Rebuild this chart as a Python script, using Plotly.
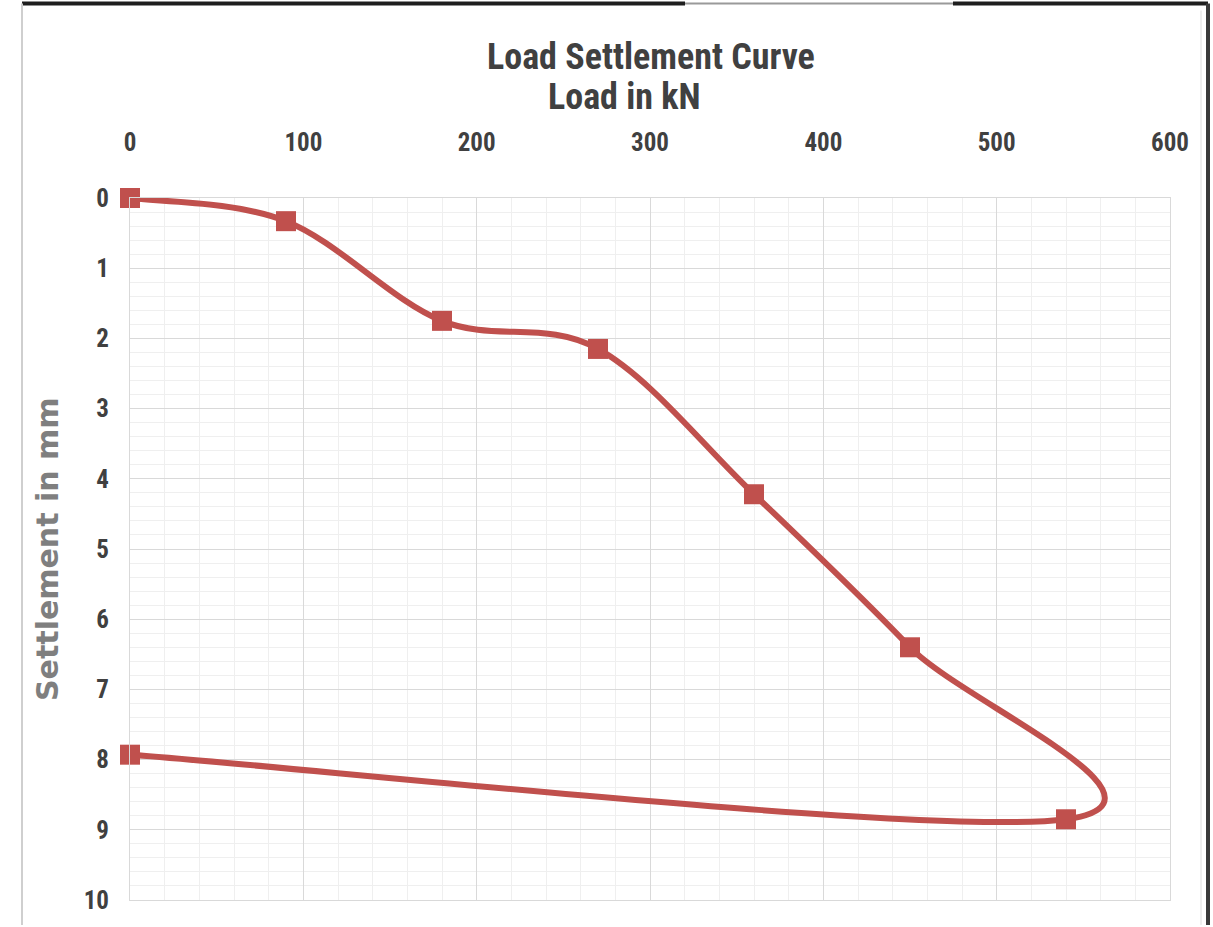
import plotly.graph_objects as go

# Load test readings: applied load (kN) and measured settlement (mm)
load_kn = [0, 90, 180, 270, 360, 450, 540, 0]
settlement_mm = [0, 0.33, 1.75, 2.15, 4.22, 6.4, 8.85, 7.93]

x_ticks = [0, 100, 200, 300, 400, 500, 600]
y_ticks = list(range(0, 11))

W, H = 1213, 927
L, R, T, B = 130, 43, 198, 25
pw, ph = W - L - R, H - T - B

RED = "#C0504D"
TXT = "#404040"
NARROW = "Liberation Sans Narrow, Arial Narrow, Roboto Condensed, sans-serif"


def px(x):
    return (x - L) / pw


def py(y):
    return (H - B - y) / ph


def smooth_path(xs, ys):
    """Cubic Bezier path through the readings (Catmull-Rom style tangents)."""
    pts = list(zip(xs, ys))
    n = len(pts)
    parts = [f"M{pts[0][0]},{pts[0][1]}"]
    for i in range(n - 1):
        p0 = pts[max(i - 1, 0)]
        p1 = pts[i]
        p2 = pts[i + 1]
        p3 = pts[min(i + 2, n - 1)]
        c1 = (p1[0] + (p2[0] - p0[0]) / 6, p1[1] + (p2[1] - p0[1]) / 6)
        c2 = (p2[0] - (p3[0] - p1[0]) / 6, p2[1] - (p3[1] - p1[1]) / 6)
        parts.append(f"C{c1[0]:.4f},{c1[1]:.4f} {c2[0]:.4f},{c2[1]:.4f} {p2[0]},{p2[1]}")
    return " ".join(parts)


fig = go.Figure()

# Smoothed load-settlement curve
fig.add_shape(type="path", xref="x", yref="y",
              path=smooth_path(load_kn, settlement_mm),
              line=dict(color=RED, width=6), fillcolor="rgba(0,0,0,0)",
              layer="between")

# Reading markers
fig.add_trace(go.Scatter(
    x=load_kn, y=settlement_mm, mode="markers",
    marker=dict(symbol="square", size=20, color=RED),
    showlegend=False, cliponaxis=False,
))

tick_font = dict(family=NARROW, size=25, color=TXT, weight="bold")

fig.update_layout(
    width=W, height=H, margin=dict(l=L, r=R, t=T, b=B),
    paper_bgcolor="white", plot_bgcolor="white",
    xaxis=dict(
        side="top", range=[0, 600], tickvals=x_ticks,
        showgrid=True, gridcolor="#d9d9d9", gridwidth=1,
        minor=dict(dtick=20, showgrid=True, gridcolor="#efefef", gridwidth=1),
        showline=True, linecolor="#d9d9d9", mirror=True, zeroline=False,
        tickfont=tick_font, ticklabelstandoff=36, ticks="",
    ),
    yaxis=dict(
        range=[10, 0], tickvals=y_ticks,
        showgrid=True, gridcolor="#d9d9d9", gridwidth=1,
        minor=dict(dtick=0.2, showgrid=True, gridcolor="#efefef", gridwidth=1),
        showline=True, linecolor="#d9d9d9", mirror=True, zeroline=False,
        tickfont=tick_font, ticklabelstandoff=15, ticks="",
    ),
)

# Chart title and load-axis caption
fig.add_annotation(text="<b>Load Settlement Curve</b>", xref="paper", yref="paper",
                   x=px(651), y=py(57), xanchor="center", yanchor="middle",
                   showarrow=False, font=dict(family=NARROW, size=36, color=TXT))
fig.add_annotation(text="<b>Load in kN</b>", xref="paper", yref="paper",
                   x=px(624), y=py(97), xanchor="center", yanchor="middle",
                   showarrow=False, font=dict(family=NARROW, size=36, color=TXT))
# Settlement axis caption
fig.add_annotation(text="<b>Settlement in mm</b>", xref="paper", yref="paper",
                   x=px(47), y=py(550), xanchor="center", yanchor="middle",
                   showarrow=False, textangle=-90,
                   font=dict(family="DejaVu Sans, sans-serif", size=30, color="#7f7f7f"))

# Outer frame of the chart window
frame = [
    (22, 3, 685, 3, "#1e1e1e", 4),
    (685, 3, 953, 3, "#9a9a9a", 2),
    (953, 3, 1208, 3, "#1e1e1e", 4),
    (22, 3, 22, 927, "#cfcfcf", 2),
    (1208, 3, 1208, 927, "#3a3a3a", 4),
    (1201, 10, 1201, 927, "#dcdcdc", 1),
]
for x0, y0, x1, y1, c, w in frame:
    fig.add_shape(type="line", xref="paper", yref="paper",
                  x0=px(x0), y0=py(y0), x1=px(x1), y1=py(y1),
                  line=dict(color=c, width=w), layer="above")

fig.write_html("out.html")
